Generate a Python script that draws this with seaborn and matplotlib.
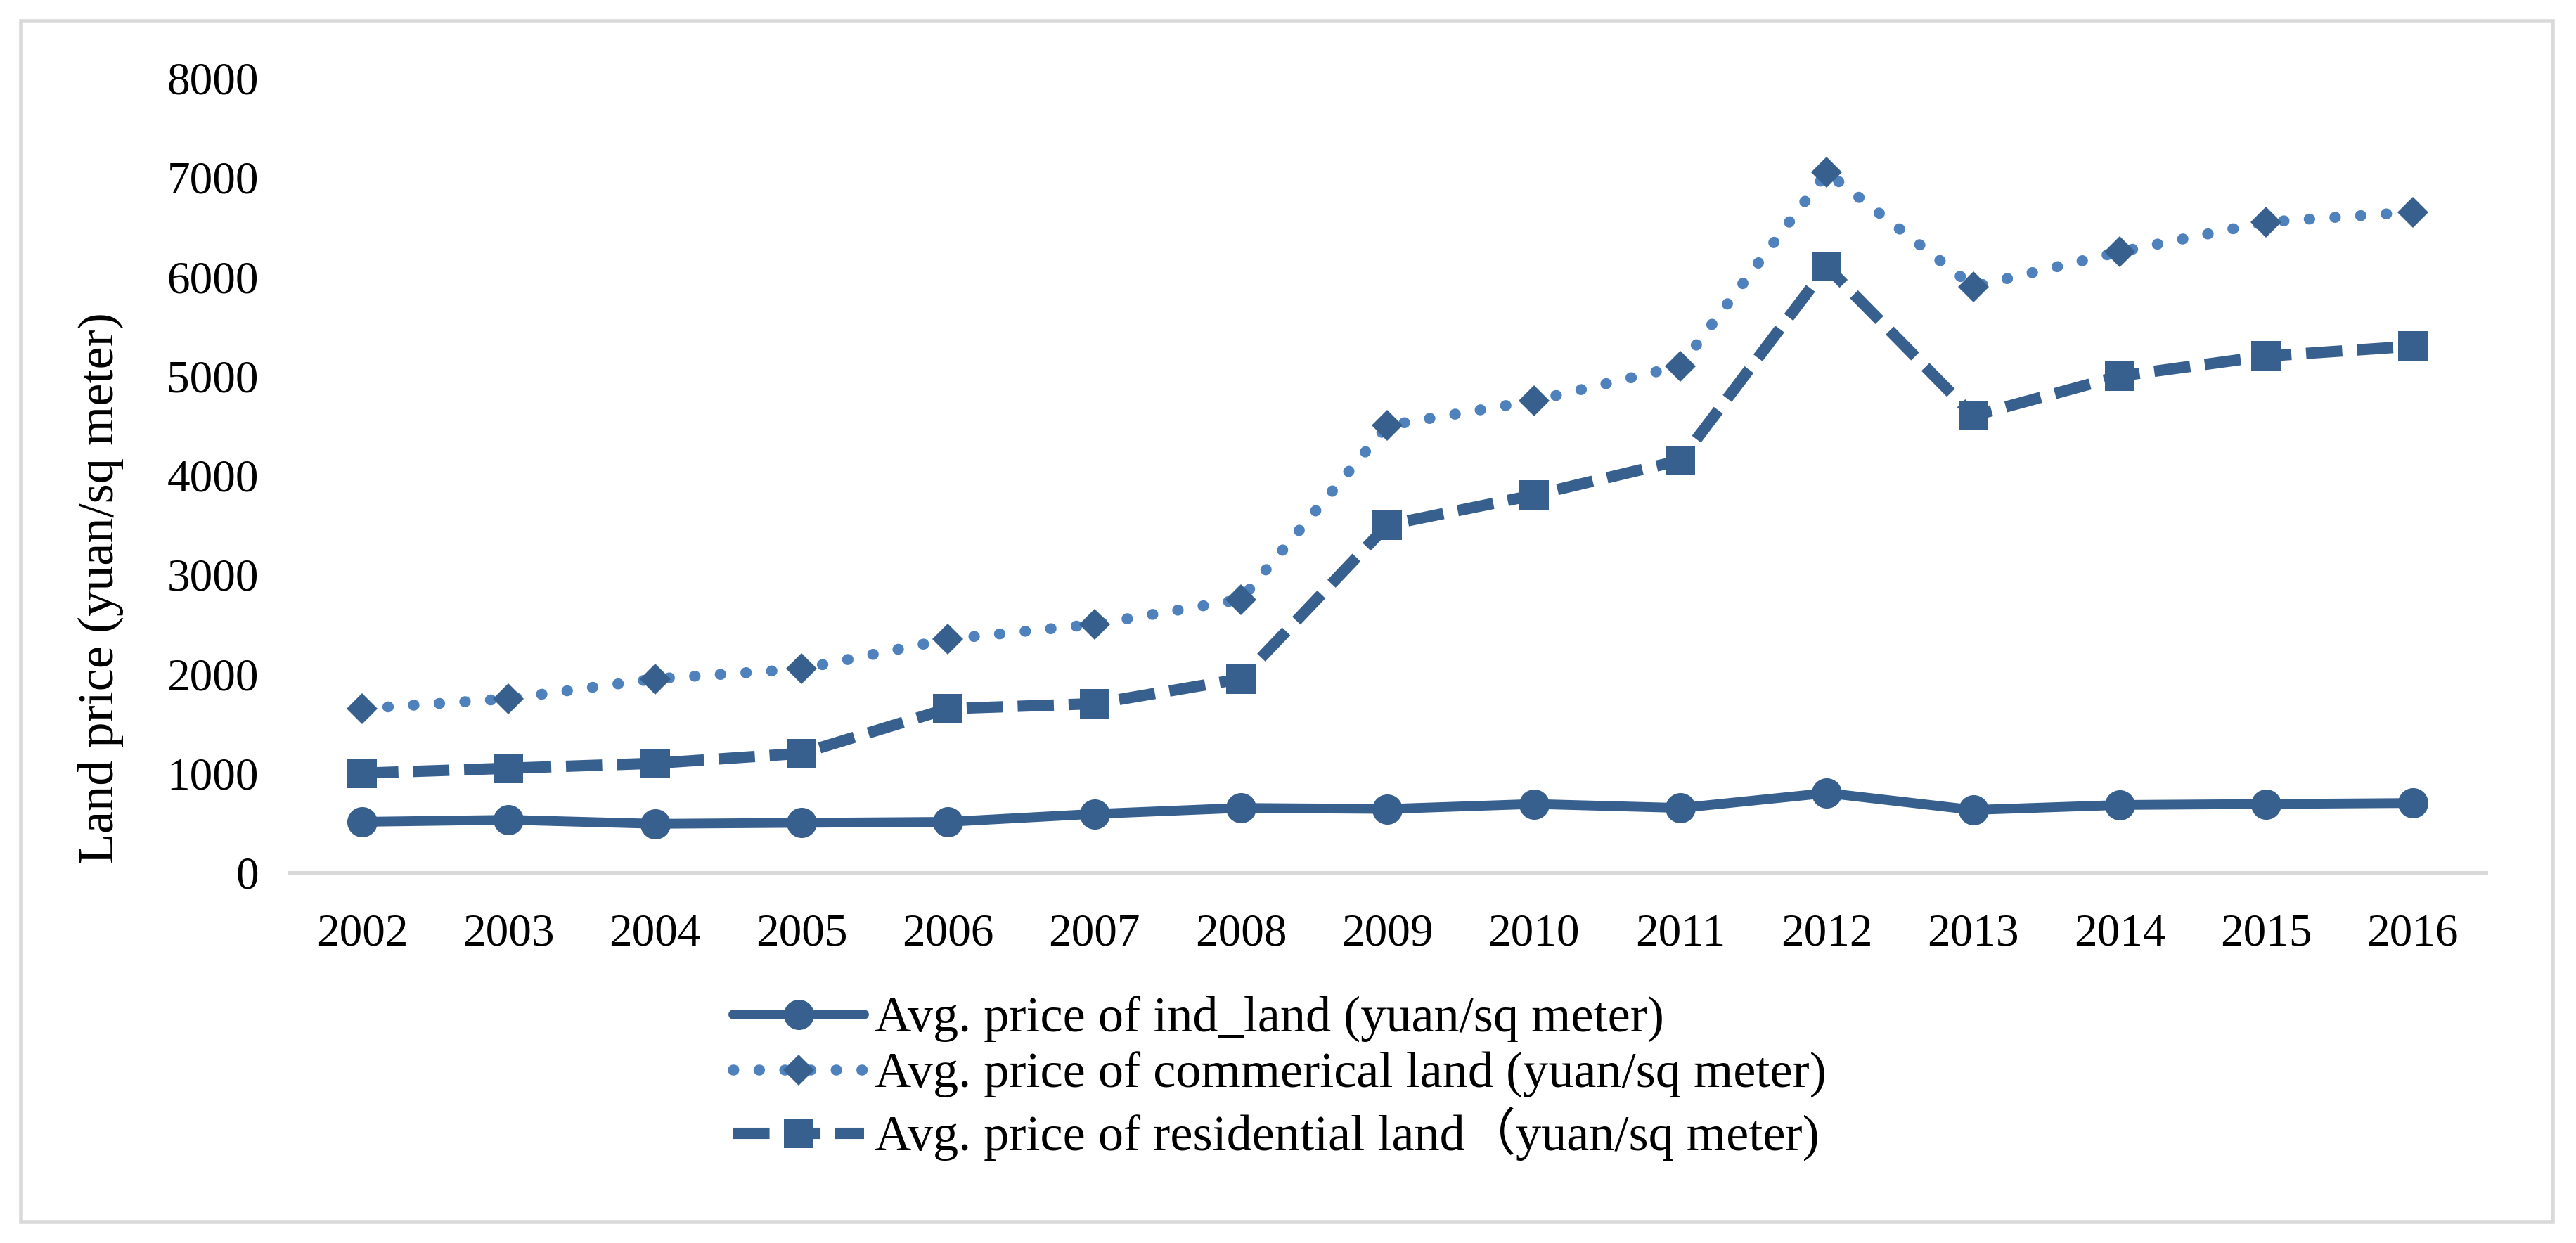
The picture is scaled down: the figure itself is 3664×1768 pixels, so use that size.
import matplotlib
matplotlib.use("Agg")
import matplotlib.pyplot as plt
from matplotlib.patches import Rectangle
import seaborn as sns
import pandas as pd

years = [2002, 2003, 2004, 2005, 2006, 2007, 2008, 2009, 2010, 2011, 2012, 2013, 2014, 2015, 2016]
ind_price = [510, 530, 490, 500, 510, 590, 650, 640, 690, 650, 800, 630, 680, 690, 700]
com_price = [1650, 1750, 1950, 2050, 2350, 2500, 2750, 4500, 4750, 5100, 7050, 5900, 6250, 6550, 6650]
res_price = [1000, 1050, 1100, 1200, 1650, 1700, 1950, 3500, 3800, 4150, 6100, 4600, 5000, 5200, 5300]
labels = ["Avg. price of ind_land (yuan/sq meter)",
          "Avg. price of commerical land (yuan/sq meter)",
          "Avg. price of residential land\uff08yuan/sq meter)"]
y_ticks = [0, 1000, 2000, 3000, 4000, 5000, 6000, 7000, 8000]

sns.set_theme(style="white")
plt.rcParams["font.family"] = ["Liberation Serif", "Noto Sans CJK SC", "DejaVu Sans"]

W, H = 3664, 1768
fig = plt.figure(figsize=(W / 200, H / 200), dpi=200)
ax = fig.add_axes([411 / W, 1 - 1241 / H, (3536 - 411) / W, (1241 - 111) / H])

dark = "#38608F"
light = "#4F81BD"

df_ind = pd.DataFrame({"year": years, "price": ind_price})
df_com = pd.DataFrame({"year": years, "price": com_price})
df_res = pd.DataFrame({"year": years, "price": res_price})

sns.lineplot(data=df_ind, x="year", y="price", ax=ax, color=dark, linewidth=5.0,
             marker="o", markersize=15.5, mec=dark, mew=0, label=labels[0],
             linestyle="-")
sns.lineplot(data=df_com, x="year", y="price", ax=ax, color=light, linewidth=5.6,
             marker="D", markersize=11, mec=dark, mfc=dark, mew=0, label=labels[1],
             linestyle=(0, (0.05, 2.3)), dash_capstyle="round")
sns.lineplot(data=df_res, x="year", y="price", ax=ax, color=dark, linewidth=5.8,
             marker="s", markersize=15, mec=dark, mew=0, label=labels[2],
             linestyle=(0, (3.2, 1.3)))

ax.set_xlim(2001.5, 2016.5)
ax.set_ylim(0, 8000)
ax.set_xticks(years)
ax.set_xticklabels([str(y) for y in years])
ax.set_yticks(y_ticks)
ax.set_yticklabels([str(v) for v in y_ticks])
ax.tick_params(axis="both", length=0, labelsize=23.5, colors="#000000")
ax.tick_params(axis="x", pad=21)
ax.tick_params(axis="y", pad=15.5)
for s in ["left", "top", "right"]:
    ax.spines[s].set_visible(False)
ax.spines["bottom"].set_color("#D9D9D9")
ax.spines["bottom"].set_linewidth(1.8)
ax.grid(False)
ax.set_xlabel("")
ax.set_ylabel("")
fig.text(143 / W, 1 - 837 / H, "Land price (yuan/sq meter)", rotation=90,
         ha="center", va="center", fontsize=26, color="#000000")

leg = ax.legend(loc="upper left", bbox_to_anchor=(1043 / W, 1 - 1417 / H),
                bbox_transform=fig.transFigure, frameon=False, fontsize=26,
                handlelength=2.57, handletextpad=0.22, labelspacing=0.18,
                borderpad=0, borderaxespad=0)
for t in leg.get_texts():
    t.set_color("#000000")

fig.patches.append(Rectangle((30 / W, 1 - 1738 / H), (3631 - 30) / W, (1738 - 30) / H,
                             transform=fig.transFigure, fill=False,
                             edgecolor="#D9D9D9", linewidth=2.0))

fig.savefig("out.png", dpi=200, facecolor="white")
